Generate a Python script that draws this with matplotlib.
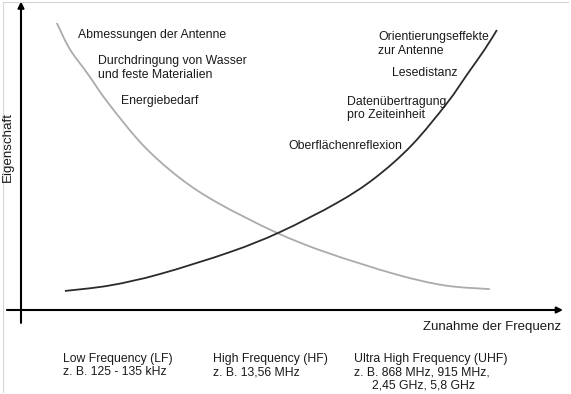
import matplotlib
matplotlib.use('Agg')
import matplotlib.pyplot as plt
from matplotlib.path import Path
from matplotlib.patches import PathPatch

plt.rcParams['font.family'] = ['Liberation Sans', 'DejaVu Sans']

# Kurven (Frequenz 0..100, Eigenschaft 0..100)
steigend_x = [8.1, 16.4, 25.6, 38.6, 47.8, 58.3, 65.3, 72.1, 78.6, 82.5, 85.6, 87.8]
steigend_y = [6.2, 8.0, 11.7, 18.9, 25.4, 34.9, 43.0, 53.7, 67.4, 77.2, 85.0, 91.2]

fallend_x = [6.6, 9.0, 12.2, 16.1, 22.5, 29.3, 36.3, 46.9, 56.1, 69.0, 78.2, 86.5]
fallend_y = [93.5, 85.0, 77.2, 67.4, 53.7, 43.0, 34.9, 25.4, 18.9, 11.7, 8.0, 6.8]

links_texte = ['Abmessungen der Antenne',
               'Durchdringung von Wasser\nund feste Materialien',
               'Energiebedarf']
rechts_texte = ['Orientierungseffekte\nzur Antenne',
                'Lesedistanz',
                'Datenübertragung\npro Zeiteinheit',
                'Oberflächenreflexion']
baender = ['Low Frequency (LF)\nz. B. 125 - 135 kHz',
           'High Frequency (HF)\nz. B. 13,56 MHz',
           'Ultra High Frequency (UHF)\nz. B. 868 MHz, 915 MHz,']
uhf_zusatz = '2,45 GHz, 5,8 GHz'

W, H = 571, 394
fig = plt.figure(figsize=(W / 100, H / 100), dpi=100)


def fx(px):
    return px / W


def fy(py):
    return 1 - py / H


def glatte_kurve(xs, ys):
    p = list(zip(xs, ys))
    verts = [p[0]]
    codes = [Path.MOVETO]
    for i in range(len(p) - 1):
        p0 = p[i - 1] if i > 0 else p[i]
        p1, p2 = p[i], p[i + 1]
        p3 = p[i + 2] if i + 2 < len(p) else p[i + 1]
        c1 = (p1[0] + (p2[0] - p0[0]) / 6, p1[1] + (p2[1] - p0[1]) / 6)
        c2 = (p2[0] - (p3[0] - p1[0]) / 6, p2[1] - (p3[1] - p1[1]) / 6)
        verts += [c1, c2, p2]
        codes += [Path.CURVE4] * 3
    return Path(verts, codes)


# Rahmen (links, oben)
fig.add_artist(plt.Line2D([fx(2.5), fx(2.5)], [fy(2), fy(392)], color='#d6d6d6', lw=0.8))
fig.add_artist(plt.Line2D([fx(2.5), fx(568)], [fy(2), fy(2)], color='#d6d6d6', lw=0.8))

ax = fig.add_axes([fx(21), fy(310), 542 / W, 307 / H])
ax.set_xlim(0, 100)
ax.set_ylim(0, 100)
ax.set_axis_off()

# Achsen mit Pfeilen
pfeil = dict(arrowstyle='-|>', color='black', lw=1.5, mutation_scale=9,
             shrinkA=0, shrinkB=0)
ax.annotate('', xy=(100, 0), xytext=(-2.6, 0), arrowprops=pfeil, annotation_clip=False)
ax.annotate('', xy=(0, 100.5), xytext=(0, -4.2), arrowprops=pfeil, annotation_clip=False)

ax.add_patch(PathPatch(glatte_kurve(fallend_x, fallend_y), facecolor='none',
                       edgecolor='#ababab', lw=1.3, clip_on=False))
ax.add_patch(PathPatch(glatte_kurve(steigend_x, steigend_y), facecolor='none',
                       edgecolor='#2b2b2b', lw=1.3, clip_on=False))

fs = 8.8
tc = '#1a1a1a'
kw = dict(color=tc, linespacing=1.15)

links_pos = [(78, 35), (98, 68), (121, 101)]
for t, (px, py) in zip(links_texte, links_pos):
    fig.text(fx(px), fy(py), t, ha='left', va='center', fontsize=fs, **kw)

rechts_pos = [(378, 44), (392, 73), (347, 108.5), (288, 146)]
for t, (px, py) in zip(rechts_texte, rechts_pos):
    fig.text(fx(px), fy(py), t, ha='left', va='center', fontsize=fs, **kw)

fig.text(fx(8), fy(147), 'Eigenschaft', rotation=90, ha='center', va='center',
         fontsize=9.6, **kw)
fig.text(fx(561), fy(327), 'Zunahme der Frequenz', ha='right', va='center',
         fontsize=9.5, **kw)

band_pos = [63, 213, 354]
for t, px in zip(baender, band_pos):
    fig.text(fx(px), fy(365.5), t, ha='left', va='center', fontsize=fs, **kw)
fig.text(fx(372), fy(386), uhf_zusatz, ha='left', va='center', fontsize=fs, **kw)

fig.savefig('out.png', dpi=100)
